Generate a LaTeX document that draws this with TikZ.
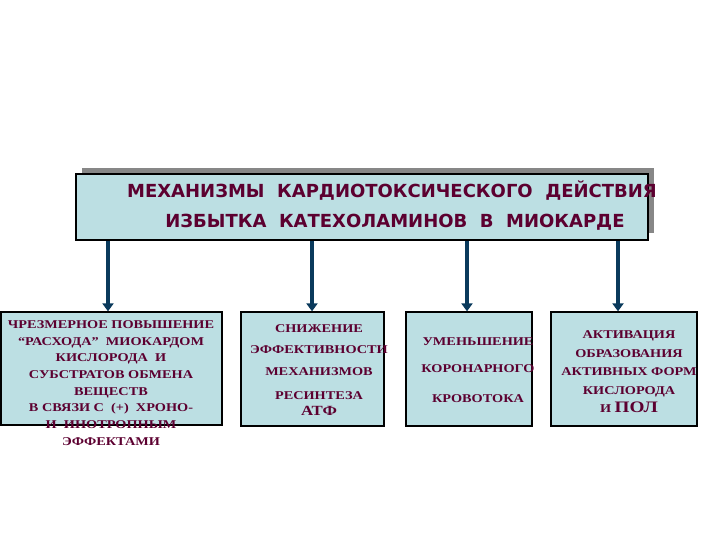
\documentclass[tikz,border=0pt]{standalone}
\usepackage{fontspec}
\setmainfont{Liberation Serif}
\newfontfamily\titlefont{DejaVu Sans}
\newfontfamily\boxfont{Liberation Serif}[FakeStretch=1.2]
\usetikzlibrary{arrows.meta}
\definecolor{boxfill}{RGB}{188,223,227}
\definecolor{txtred}{RGB}{92,0,48}
\definecolor{arrblue}{RGB}{10,58,92}
\definecolor{shadowgray}{RGB}{135,135,135}
\tikzset{
  x=1pt, y=-1pt,
  card/.style={draw=black, line width=1.3pt, fill=boxfill, rectangle, inner sep=0pt},
  boxtext/.style={text=txtred, align=center, font=\boxfont\bfseries\fontsize{11.9}{16.7}\selectfont, inner sep=0pt},
  titletext/.style={text=txtred, font=\titlefont\bfseries\fontsize{18}{22}\selectfont, inner sep=0pt, anchor=base},
  arr/.style={draw=arrblue, line width=4pt, -{Triangle[width=11pt,length=8pt]}}
}
\begin{document}
\begin{tikzpicture}
\useasboundingbox (0,0) rectangle (720,540);
% title box with shadow
\fill[shadowgray] (82,168) rectangle (654,233);
\node[card, minimum width=572pt, minimum height=66pt] (t) at (362,207) {};
\node[titletext] (t1) at (392,198) {МЕХАНИЗМЫ\ \ КАРДИОТОКСИЧЕСКОГО\ \ ДЕЙСТВИЯ};
\node[titletext] (t2) at (395,228) {ИЗБЫТКА\ \ КАТЕХОЛАМИНОВ\ \ В\ \ МИОКАРДЕ};
% bottom boxes
\node[card, minimum width=221pt, minimum height=113pt] (b1) at (111.5,368.5) {};
\node[card, minimum width=143pt, minimum height=114pt] (b2) at (312.5,369) {};
\node[card, minimum width=126pt, minimum height=114pt] (b3) at (469,369) {};
\node[card, minimum width=146pt, minimum height=114pt] (b4) at (624,369) {};
% arrows
\coordinate (a1) at (108,0);
\coordinate (a2) at (312,0);
\coordinate (a3) at (467,0);
\coordinate (a4) at (618,0);
\draw[arr] (t.south -| a1) -- (b1.north -| a1);
\draw[arr] (t.south -| a2) -- (b2.north -| a2);
\draw[arr] (t.south -| a3) -- (b3.north -| a3);
\draw[arr] (t.south -| a4) -- (b4.north -| a4);
% texts
\node[boxtext] (x1) at (111,383) {ЧРЕЗМЕРНОЕ ПОВЫШЕНИЕ\\“РАСХОДА”\ \ МИОКАРДОМ\\КИСЛОРОДА\ \ И\\СУБСТРАТОВ ОБМЕНА\\ВЕЩЕСТВ\\В СВЯЗИ С\ \ (+)\ \ ХРОНО-\\И\ \ ИНОТРОПНЫМ\\ЭФФЕКТАМИ};
\node[boxtext] (x2) at (319,370) {СНИЖЕНИЕ\\[5pt]ЭФФЕКТИВНОСТИ\\[5pt]МЕХАНИЗМОВ\\[7pt]РЕСИНТЕЗА\\{\fontsize{14}{16}\selectfont АТФ}};
\node[boxtext] (x3) at (478,370) {УМЕНЬШЕНИЕ\\[11pt]КОРОНАРНОГО\\[13pt]КРОВОТОКА};
\node[boxtext, font=\boxfont\bfseries\fontsize{11.9}{18.5}\selectfont] (x4) at (629,372) {АКТИВАЦИЯ\\ОБРАЗОВАНИЯ\\АКТИВНЫХ ФОРМ\\КИСЛОРОДА\\И {\fontsize{16}{18}\selectfont ПОЛ}};
\end{tikzpicture}
\end{document}
